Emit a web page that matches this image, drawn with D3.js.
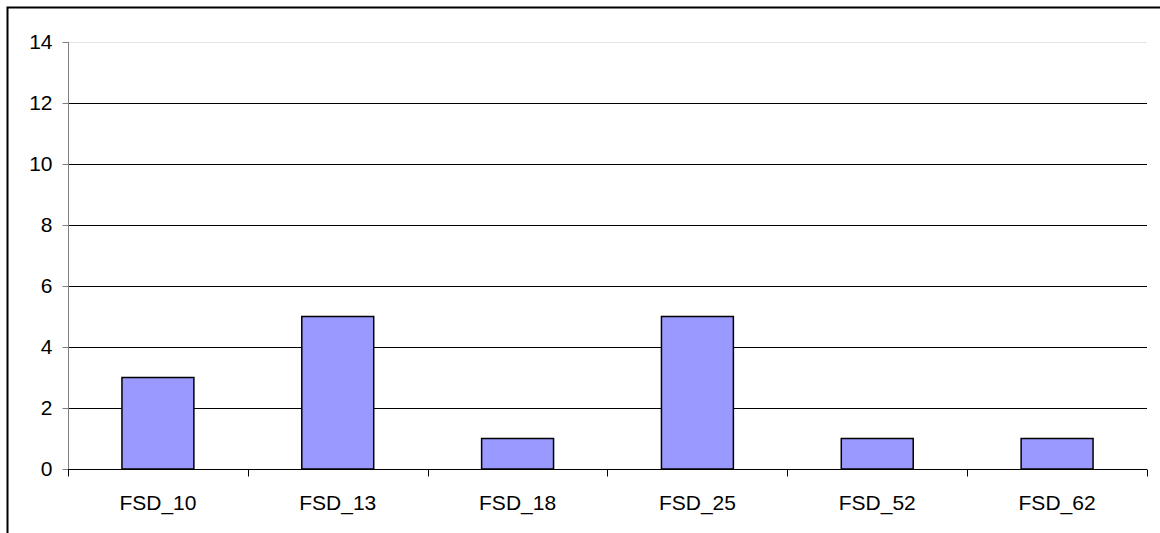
<!DOCTYPE html>
<html>
<head>
<meta charset="utf-8">
<script src="https://cdn.jsdelivr.net/npm/d3@7"></script>
<style>
  html, body { margin: 0; padding: 0; background: #fff; }
  svg { display: block; }
</style>
</head>
<body>
<div id="chart"></div>
<script>
// Counts per FSD code
const categories = ["FSD_10", "FSD_13", "FSD_18", "FSD_25", "FSD_52", "FSD_62"];
const counts = [3, 5, 1, 5, 1, 1];
const yTicks = [0, 2, 4, 6, 8, 10, 12, 14];

const W = 1160, H = 533;
const plot = { left: 68, right: 1147, top: 42, bottom: 469 };
const font = "'Liberation Sans', Arial, sans-serif";

const svg = d3.select("#chart").append("svg")
  .attr("width", W).attr("height", H);

// outer chart frame (runs off the right and bottom edges)
svg.append("rect")
  .attr("x", 7.5).attr("y", 7.5)
  .attr("width", W + 10).attr("height", H + 10)
  .attr("fill", "none").attr("stroke", "#000").attr("stroke-width", 2);

const x = d3.scaleBand()
  .domain(categories)
  .range([plot.left, plot.right])
  .paddingInner(0.6)
  .paddingOuter(0.3);

const y = d3.scaleLinear()
  .domain([0, 14])
  .range([plot.bottom, plot.top]);

// horizontal gridlines
svg.append("g")
  .selectAll("line")
  .data(yTicks.filter(d => d > 0))
  .join("line")
  .attr("x1", plot.left).attr("x2", plot.right)
  .attr("y1", d => Math.round(y(d)) + 0.5)
  .attr("y2", d => Math.round(y(d)) + 0.5)
  .attr("stroke", d => d === 14 ? "#e4e4e4" : "#000")
  .attr("stroke-width", 1);

// bars
svg.append("g")
  .selectAll("rect")
  .data(categories.map((c, i) => ({ c, v: counts[i] })))
  .join("rect")
  .attr("x", d => x(d.c))
  .attr("y", d => y(d.v))
  .attr("width", x.bandwidth())
  .attr("height", d => y(0) - y(d.v))
  .attr("fill", "#9999ff")
  .attr("stroke", "#000")
  .attr("stroke-width", 1.5);

// y axis
const yAxis = svg.append("g")
  .attr("transform", `translate(${plot.left + 0.5},0)`)
  .call(d3.axisLeft(y).tickValues(yTicks).tickSize(6).tickPadding(10).tickFormat(d3.format("d")));
yAxis.select(".domain").attr("stroke", "#808080").attr("d", `M0,${plot.top}V${plot.bottom}`);
yAxis.selectAll(".tick line").attr("stroke", "#808080");
yAxis.selectAll(".tick text")
  .attr("font-family", font).attr("font-size", 21).attr("fill", "#000");

// x axis with category boundary ticks
const xAxis = svg.append("g")
  .attr("transform", `translate(0,${plot.bottom + 0.5})`);
xAxis.append("line")
  .attr("x1", plot.left).attr("x2", plot.right)
  .attr("stroke", "#000");
const step = x.step();
const bounds = d3.range(categories.length + 1).map(i => x(categories[0]) - x.paddingOuter() * step + i * step);
xAxis.selectAll("line.b")
  .data(bounds)
  .join("line")
  .attr("class", "b")
  .attr("x1", d => Math.round(d) + 0.5).attr("x2", d => Math.round(d) + 0.5)
  .attr("y1", 0).attr("y2", 7)
  .attr("stroke", "#000");
xAxis.selectAll("text")
  .data(categories)
  .join("text")
  .attr("x", d => x(d) + x.bandwidth() / 2)
  .attr("y", 40)
  .attr("text-anchor", "middle")
  .attr("font-family", font).attr("font-size", 21)
  .attr("fill", "#000")
  .text(d => d);
</script>
</body>
</html>
